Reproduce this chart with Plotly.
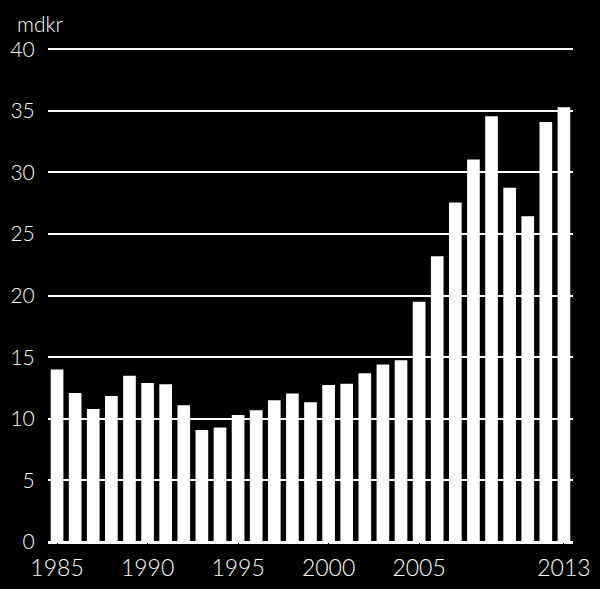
import plotly.graph_objects as go

years = list(range(1985, 2014))
values = [14.0, 12.1, 10.8, 11.85, 13.5, 12.9, 12.8, 11.1, 9.1, 9.3,
          10.3, 10.7, 11.5, 12.05, 11.35, 12.75, 12.85, 13.7, 14.4, 14.75,
          19.5, 23.2, 27.55, 31.05, 34.55, 28.75, 26.45, 34.1, 35.3]
x_ticks = [1985, 1990, 1995, 2000, 2005, 2013]
y_ticks = [0, 5, 10, 15, 20, 25, 30, 35, 40]
unit_label = "mdkr"

FONT = "Lato"
W = 300

fig = go.Figure(go.Bar(
    x=years, y=values,
    marker=dict(color="white", line=dict(width=0)),
))

fig.update_layout(
    width=600, height=589,
    margin=dict(l=48, r=27, t=48, b=47, autoexpand=False),
    paper_bgcolor="black", plot_bgcolor="black",
    bargap=0.3,
    showlegend=False,
    font=dict(family=FONT, color="white", weight=W),
    annotations=[dict(
        text=unit_label, xref="paper", yref="paper",
        x=-0.0629, y=1.05, xanchor="left", yanchor="middle",
        showarrow=False, font=dict(family=FONT, size=21, color="white", weight=W),
    )],
)

fig.update_xaxes(
    range=[1984.5, 2013.5],
    tickmode="array", tickvals=x_ticks, ticktext=[str(v) for v in x_ticks],
    tickfont=dict(family=FONT, size=23, color="white", weight=W),
    showgrid=False, zeroline=False, showline=False,
    ticks="outside", ticklen=5, tickcolor="black",
    automargin=False,
)
fig.update_yaxes(
    range=[0, 40.1],
    tickmode="array", tickvals=y_ticks, ticktext=[str(v) for v in y_ticks],
    tickfont=dict(family=FONT, size=21, color="white", weight=W),
    showgrid=True, gridcolor="white", gridwidth=1.5,
    zeroline=True, zerolinecolor="white", zerolinewidth=2.5,
    showline=False,
    ticks="outside", ticklen=8, tickcolor="black",
    automargin=False,
)

fig.write_html("out.html")
